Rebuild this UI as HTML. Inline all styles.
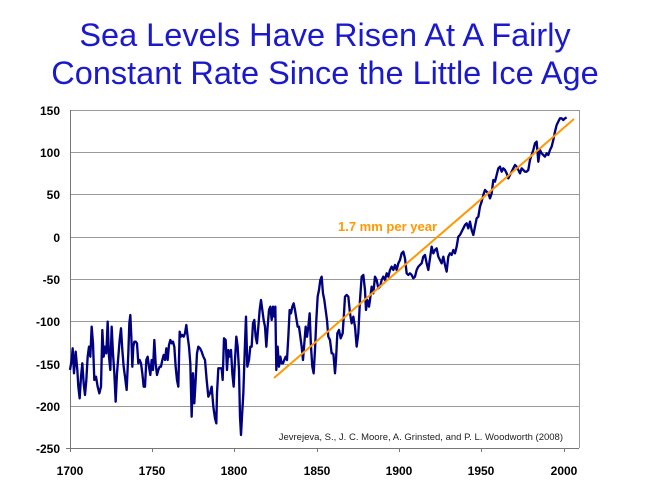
<!DOCTYPE html>
<html><head><style>
body{margin:0;background:#fff;}
</style></head><body>
<svg width="650" height="488" xmlns="http://www.w3.org/2000/svg" font-family="Liberation Sans, Arial, sans-serif">
<rect width="650" height="488" fill="#fff"/>
<text x="325" y="46" text-anchor="middle" font-size="32.5" fill="#1a1acc">Sea Levels Have Risen At A Fairly</text>
<text x="325" y="84" text-anchor="middle" font-size="32.5" fill="#1a1acc">Constant Rate Since the Little Ice Age</text>
<g stroke="#999" stroke-width="1">
<line x1="70" y1="110.5" x2="579" y2="110.5"/>
<line x1="70" y1="152.5" x2="579" y2="152.5"/>
<line x1="70" y1="194.5" x2="579" y2="194.5"/>
<line x1="70" y1="237.5" x2="579" y2="237.5"/>
<line x1="70" y1="279.5" x2="579" y2="279.5"/>
<line x1="70" y1="321.5" x2="579" y2="321.5"/>
<line x1="70" y1="364.5" x2="579" y2="364.5"/>
<line x1="70" y1="406.5" x2="579" y2="406.5"/>
<line x1="579.5" y1="110" x2="579.5" y2="448"/>
</g>
<g stroke="#777" stroke-width="1">
<line x1="70.5" y1="110" x2="70.5" y2="452"/>
<line x1="66" y1="448.5" x2="579" y2="448.5"/>
<line x1="152.5" y1="448" x2="152.5" y2="452"/>
<line x1="234.5" y1="448" x2="234.5" y2="452"/>
<line x1="317.5" y1="448" x2="317.5" y2="452"/>
<line x1="399.5" y1="448" x2="399.5" y2="452"/>
<line x1="481.5" y1="448" x2="481.5" y2="452"/>
<line x1="564.5" y1="448" x2="564.5" y2="452"/>
</g>
<g font-size="12" font-weight="bold" fill="#000" text-anchor="end">
<text x="60" y="115">150</text><text x="60" y="157">100</text><text x="60" y="199">50</text>
<text x="60" y="242">0</text><text x="60" y="284">-50</text><text x="60" y="326">-100</text>
<text x="60" y="369">-150</text><text x="60" y="411">-200</text><text x="60" y="453">-250</text>
</g>
<g font-size="12" font-weight="bold" fill="#000" text-anchor="middle">
<text x="70" y="475">1700</text><text x="152" y="475">1750</text><text x="234" y="475">1800</text>
<text x="317" y="475">1850</text><text x="399" y="475">1900</text><text x="481" y="475">1950</text><text x="564" y="475">2000</text>
</g>
<text x="563" y="440" text-anchor="end" font-size="9.5" fill="#222">Jevrejeva,  S., J. C. Moore,  A. Grinsted,  and P. L. Woodworth  (2008)</text>
<g fill="none" stroke="#000080" stroke-width="7" stroke-linejoin="round">
<polyline transform="translate(65,260) scale(0.3333)" points="15,330 20,300 23,265 27,340 32,275 37,330 40,380 44,415 48,350 52,310 56,370 60,405 64,360 68,290 72,260 76,290 80,200 84,250 88,360 93,350 98,380 103,400 108,380 112,210 116,290 120,260 124,280 128,185 132,290 136,330 140,200 144,280 148,340 152,425 156,340 160,290 164,240 168,205 172,270 176,320 180,350 185,390 190,280 193,190 196,165 199,230 202,320 205,260 208,245 212,245 216,250 220,310 224,300 228,310 232,340 236,380 240,380 244,300 248,290 252,320 256,345 260,300 264,330 268,240 272,310 276,345 280,330 284,320 288,320 292,300 296,285 300,300 304,265 308,300 312,255 316,240 320,250 324,245 328,260 332,320 336,360 340,380 344,215 348,230 352,225 356,230 360,220 364,195 368,230 372,260 376,310 380,470 384,340 388,430 392,360 396,280 400,260 405,265 410,275 415,290"/>
<polyline transform="translate(195,260) scale(0.3333)" points="25,290 30,300 35,360 40,410 45,400 50,380 55,440 60,475 64,490 66,400 70,325 75,325 80,325 83,360 87,235 92,240 96,330 100,270 104,290 108,270 112,340 116,380 120,300 124,230 128,260 132,330 135,470 138,525 141,470 145,400 150,250 153,170 157,320 162,300 166,260 170,260 174,190 178,180 182,230 186,250 190,200 194,150 198,120 202,150 206,180 210,200 214,260 218,200 222,150 226,140 230,180 234,140 238,170 241,140 244,330 248,260 252,320 256,290 260,310 264,310 268,300 272,290 276,300 280,230 284,150 288,160 292,140 296,130 300,150 304,175 308,200 312,200 316,230 320,260 324,300 328,250 332,200 336,230 340,200 344,160 348,260 352,320 356,340 360,270 364,180 368,110 372,90 376,60 380,50 384,100 388,120 392,150 396,180 400,230 405,240 410,280 415,280"/>
<polyline transform="translate(320,100) scale(0.3333)" points="40,760 45,820 48,780 52,700 57,690 62,715 68,700 72,640 75,590 80,585 85,590 90,640 95,670 100,650 105,680 110,740 115,700 120,600 125,530 130,525 135,570 138,630 142,600 147,620 150,600 155,560 160,580 165,530 170,540 175,565 180,560 185,540 190,530 195,540 200,520 205,530 210,510 215,500 220,510 225,495 230,510 235,490 240,480 245,460 250,455 255,475 260,520 265,525 270,520 275,525 280,535 285,530 290,510 295,500 300,495 305,490 310,470 315,465 320,490 325,510 330,475 335,440 340,460 345,450 350,445 355,470 360,480 365,490 370,470 375,495 380,515 385,470 390,460 395,465 400,450 405,460 410,440 415,410 420,405 425,395 430,385 435,375 440,370 445,385 450,365 455,390 460,405 465,380 470,355 475,350 480,320 485,305 490,285 495,270 500,275 505,280 510,295 515,280 520,240 525,245 530,225 535,205 540,200 545,215 550,205 555,210 560,220 565,235 570,225 575,215 580,205 585,195 590,200 595,210 600,220 605,205 610,210 615,215 620,215 625,210 630,180 635,165 640,150 645,130 650,125 655,185 660,150 665,160 670,165 675,170 680,160 685,165 690,150 695,140 700,120 705,95 710,75 715,65 720,55 725,55 730,60 735,55 740,52"/>
</g>
<line x1="274" y1="378" x2="574" y2="119" stroke="#ff9900" stroke-width="2"/>
<text x="338" y="231" font-size="13" font-weight="bold" fill="#ff9900">1.7 mm per year</text>
</svg>
</body></html>
